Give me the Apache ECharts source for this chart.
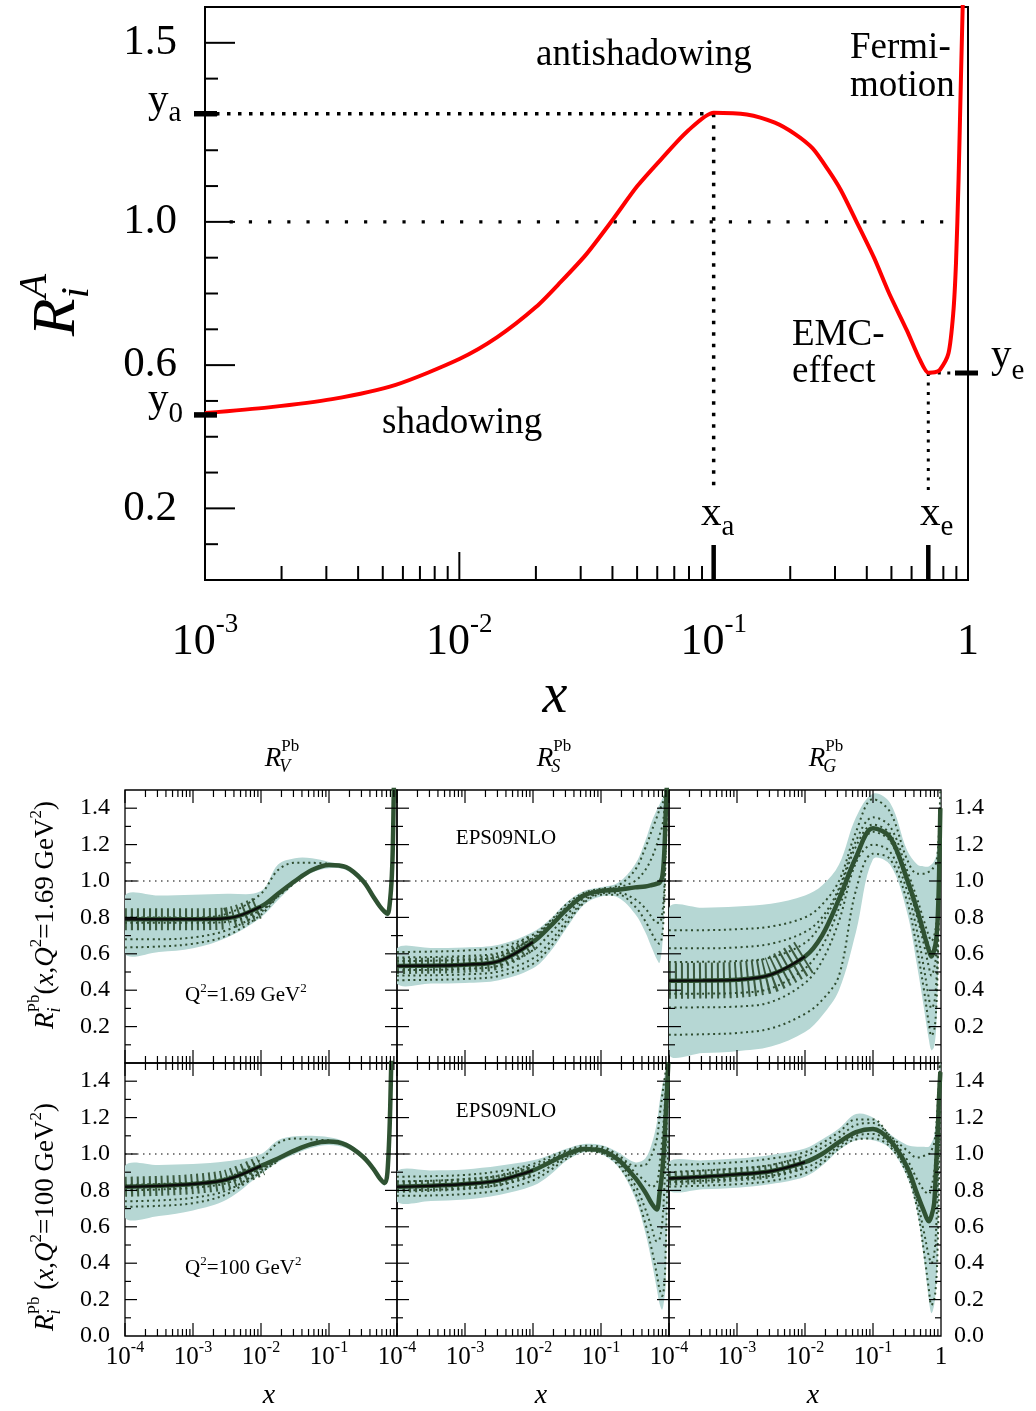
<!DOCTYPE html>
<html>
<head>
<meta charset="utf-8">
<title>Nuclear modification ratios</title>
<script src="https://cdn.jsdelivr.net/npm/echarts@6.0.0/dist/echarts.min.js"></script>
<style>html,body{margin:0;padding:0;background:#fff;}#chart{width:1036px;height:1411px;}</style>
</head>
<body>
<div id="chart"></div>
<script>
// ================= TOP PANEL DATA =================
const topCurveX = [0.001, 0.00178, 0.00316, 0.00562, 0.01, 0.0141, 0.02, 0.0251, 0.0316, 0.0398, 0.0501, 0.0631, 0.0794, 0.1, 0.135, 0.174, 0.209, 0.245, 0.282, 0.316, 0.363, 0.427, 0.490, 0.575, 0.646, 0.698, 0.741, 0.776, 0.838, 0.875, 0.897, 0.918, 0.938, 0.959];
const topCurveY = [0.466, 0.482, 0.505, 0.545, 0.617, 0.678, 0.762, 0.833, 0.91, 1.003, 1.10, 1.18, 1.255, 1.305, 1.30, 1.277, 1.245, 1.205, 1.145, 1.089, 1.003, 0.90, 0.80, 0.697, 0.616, 0.579, 0.58, 0.587, 0.633, 0.745, 0.885, 1.117, 1.4, 1.68];
const topYLabels = ['0.2', '0.6', '1.0', '1.5'];
const xA = 0.1, xE = 0.698;          // antishadowing peak, EMC minimum
const yZero = 0.461, yA = 1.302, yE = 0.578;
const guideFloor = 0.25;             // where the vertical dotted guides stop
const unityFrom = 0.00125, unityTo = 0.89, yeTo = 0.865;

// ================= BOTTOM PANELS DATA =================
const xGrid = [1e-4, 3.16e-4, 1e-3, 3.16e-3, 0.01, 0.0178, 0.0316, 0.0562, 0.1, 0.178, 0.316, 0.447, 0.562, 0.661, 0.724, 0.794, 0.851, 0.891, 0.933, 0.977];
const unityLine = [1e-4, 1];

// R_V, Q^2 = 1.69 GeV^2
const rv169Central = [0.79, 0.79, 0.79, 0.795, 0.86, 0.93, 1.0, 1.06, 1.088, 1.076, 1.0, 0.915, 0.86, 0.83, 0.82, 0.9, 1.08, 1.42, 2.0, 3.0];
const rv169Upper   = [0.92, 0.92, 0.925, 0.93, 0.945, 1.09, 1.125, 1.125, 1.105, 1.085, 1.02, 0.93, 0.875, 0.845, 0.835, 0.915, 1.1, 1.45, 2.05, 3.05];
const rv169Lower   = [0.6, 0.61, 0.63, 0.69, 0.8, 0.895, 0.985, 1.045, 1.07, 1.06, 0.985, 0.9, 0.845, 0.815, 0.805, 0.885, 1.06, 1.38, 1.95, 2.95];
const rv169Err1 = [0.68, 0.68, 0.69, 0.73, 0.83, 0.925];
const rv169Err2 = [0.635, 0.64, 0.655, 0.70, 0.815, 0.92];
const rv169Err3 = [0.80, 0.80, 0.80, 0.82, 0.93, 1.06, 1.1, 1.1, 1.095];
const rv169Err4 = [0.77, 0.77, 0.77, 0.775, 0.84, 0.915, 0.99];

// R_S, Q^2 = 1.69 GeV^2
const rs169Central = [0.533, 0.535, 0.54, 0.56, 0.665, 0.75, 0.845, 0.92, 0.945, 0.952, 0.965, 0.97, 0.978, 0.985, 0.99, 1.02, 1.15, 1.35, 1.55, 2.0];
const rs169Upper   = [0.63, 0.632, 0.635, 0.65, 0.72, 0.79, 0.885, 0.945, 0.965, 0.99, 1.09, 1.22, 1.33, 1.39, 1.42, 1.45, 1.48, 1.52, 1.6, 2.0];
const rs169Lower   = [0.435, 0.437, 0.44, 0.455, 0.52, 0.61, 0.745, 0.87, 0.915, 0.91, 0.82, 0.72, 0.63, 0.57, 0.55, 0.64, 0.85, 1.1, 1.37, 1.9];
const rs169Err1 = [0.61, 0.612, 0.618, 0.635, 0.705, 0.78, 0.875, 0.935, 0.958, 0.975, 1.06, 1.18, 1.28, 1.35, 1.39, 1.42, 1.46, 1.5, 1.6, 2.0];
const rs169Err2 = [0.58, 0.582, 0.588, 0.605, 0.685, 0.77, 0.86, 0.93, 0.952, 0.965, 1.0, 1.06, 1.13, 1.2, 1.25, 1.3, 1.38, 1.48, 1.6, 2.0];
const rs169Err3 = [0.455, 0.457, 0.462, 0.478, 0.545, 0.635, 0.765, 0.88, 0.925, 0.925, 0.86, 0.78, 0.71, 0.665, 0.655, 0.7, 0.88, 1.12, 1.4, 1.95];
const rs169Err4 = [0.48, 0.482, 0.487, 0.503, 0.575, 0.665, 0.785, 0.89, 0.932, 0.935, 0.9, 0.85, 0.8, 0.77, 0.77, 0.82, 0.95, 1.18, 1.45, 2.0];
const rs169Err5 = [0.51, 0.512, 0.517, 0.535, 0.62, 0.71, 0.815, 0.905, 0.94];
const rs169Err6 = [0.56, 0.562, 0.567, 0.585, 0.69, 0.775];

// R_G, Q^2 = 1.69 GeV^2
const rg169Central = [0.452, 0.453, 0.457, 0.485, 0.585, 0.7, 0.9, 1.13, 1.29, 1.24, 1.01, 0.84, 0.71, 0.62, 0.585, 0.62, 0.68, 0.78, 1.0, 1.4];
const rg169Upper   = [0.85, 0.853, 0.86, 0.875, 0.92, 0.975, 1.09, 1.35, 1.48, 1.43, 1.17, 1.09, 1.08, 1.08, 1.09, 1.11, 1.14, 1.2, 1.3, 1.5];
const rg169Lower   = [0.05, 0.055, 0.065, 0.09, 0.17, 0.26, 0.4, 0.72, 1.12, 1.09, 0.83, 0.53, 0.3, 0.13, 0.07, 0.09, 0.2, 0.4, 0.7, 1.2];
const rg169Err1 = [0.73, 0.73, 0.735, 0.75, 0.8, 0.87, 1.0, 1.27, 1.45, 1.38, 1.12, 1.04, 1.04, 1.05, 1.06, 1.08, 1.1, 1.15, 1.27, 1.5];
const rg169Err2 = [0.63, 0.63, 0.635, 0.655, 0.72, 0.8, 0.96, 1.22, 1.35, 1.3, 1.06, 0.9, 0.78, 0.7, 0.67, 0.7, 0.76, 0.86, 1.05, 1.42];
const rg169Err3 = [0.555, 0.556, 0.56, 0.58, 0.66, 0.77, 0.945, 1.19, 1.31, 1.26, 1.03, 0.86, 0.73, 0.645, 0.61, 0.645, 0.7, 0.8, 1.02, 1.4];
const rg169Err4 = [0.38, 0.381, 0.385, 0.41, 0.52, 0.64, 0.85, 1.13, 1.27, 1.22, 0.99, 0.8, 0.65, 0.53, 0.48, 0.52, 0.6, 0.72, 0.95, 1.38];
const rg169Err5 = [0.305, 0.306, 0.31, 0.335, 0.44, 0.56, 0.78, 1.1, 1.2, 1.16, 0.95, 0.72, 0.52, 0.36, 0.3, 0.33, 0.44, 0.6, 0.88, 1.35];
const rg169Err6 = [0.155, 0.158, 0.165, 0.19, 0.27, 0.345, 0.48, 0.95, 1.15, 1.12, 0.89, 0.62, 0.4, 0.22, 0.15, 0.18, 0.3, 0.5, 0.85, 1.3];

// R_V, Q^2 = 100 GeV^2
const rv100Central = [0.82, 0.825, 0.835, 0.86, 0.935, 0.975, 1.02, 1.055, 1.068, 1.05, 0.985, 0.92, 0.865, 0.84, 0.9, 1.25, 1.8, 2.3, 2.8, 3.2];
const rv100Upper   = [0.935, 0.94, 0.945, 0.96, 1.0, 1.075, 1.097, 1.1, 1.092, 1.065, 0.997, 0.932, 0.877, 0.853, 0.915, 1.27, 1.82, 2.3, 2.8, 3.2];
const rv100Lower   = [0.65, 0.66, 0.69, 0.75, 0.89, 0.955, 1.0, 1.035, 1.05, 1.033, 0.972, 0.907, 0.852, 0.827, 0.885, 1.23, 1.78, 2.3, 2.8, 3.2];
const rv100Err1 = [0.74, 0.745, 0.76, 0.8, 0.91, 0.965];
const rv100Err2 = [0.71, 0.715, 0.73, 0.78, 0.9, 0.96];
const rv100Err3 = [0.83, 0.835, 0.845, 0.87, 0.97, 1.06, 1.085, 1.08, 1.075];
const rv100Err4 = [0.80, 0.805, 0.815, 0.84, 0.92, 0.97, 1.015];

// R_S, Q^2 = 100 GeV^2
const rs100Central = [0.82, 0.825, 0.835, 0.855, 0.91, 0.955, 1.0, 1.028, 1.02, 0.97, 0.87, 0.79, 0.725, 0.695, 0.78, 0.9, 1.05, 1.2, 1.35, 1.5];
const rs100Upper   = [0.905, 0.91, 0.915, 0.935, 0.965, 0.995, 1.03, 1.055, 1.05, 1.01, 0.955, 0.975, 1.06, 1.17, 1.28, 1.37, 1.42, 1.46, 1.5, 1.6];
const rs100Lower   = [0.738, 0.742, 0.75, 0.775, 0.825, 0.885, 0.965, 1.01, 1.0, 0.93, 0.76, 0.57, 0.4, 0.26, 0.18, 0.145, 0.2, 0.27, 0.6, 0.95];
const rs100Err1 = [0.875, 0.878, 0.885, 0.905, 0.945, 0.985, 1.02, 1.045, 1.04, 0.995, 0.935, 0.94, 1.0, 1.08, 1.2, 1.32, 1.4, 1.45, 1.5, 1.6];
const rs100Err2 = [0.77, 0.772, 0.78, 0.80, 0.855, 0.91, 0.975, 1.015, 1.005, 0.94, 0.79, 0.62, 0.47, 0.34, 0.26, 0.22, 0.28, 0.45, 0.75, 1.1];
const rs100Err3 = [0.80, 0.803, 0.81, 0.83, 0.88, 0.93, 0.985, 1.02, 1.01, 0.955, 0.83, 0.7, 0.59, 0.52, 0.53, 0.62, 0.8, 1.0, 1.2, 1.45];
const rs100Err4 = [0.85, 0.853, 0.862, 0.88, 0.93, 0.97, 1.01, 1.035, 1.03, 0.985, 0.9, 0.85, 0.82, 0.84, 0.93, 1.08, 1.22, 1.33, 1.42, 1.55];

// R_G, Q^2 = 100 GeV^2
const rg100Central = [0.865, 0.875, 0.888, 0.905, 0.955, 1.0, 1.065, 1.12, 1.138, 1.075, 0.93, 0.78, 0.685, 0.63, 0.66, 0.73, 0.95, 1.1, 1.3, 1.45];
const rg100Upper   = [0.958, 0.965, 0.975, 0.995, 1.03, 1.08, 1.14, 1.22, 1.2, 1.11, 1.05, 1.04, 1.04, 1.04, 1.06, 1.1, 1.2, 1.3, 1.42, 1.55];
const rg100Lower   = [0.8, 0.807, 0.815, 0.835, 0.875, 0.935, 1.02, 1.075, 1.075, 1.03, 0.875, 0.68, 0.42, 0.2, 0.125, 0.17, 0.28, 0.45, 0.8, 1.2];
const rg100Err1 = [0.94, 0.945, 0.955, 0.975, 1.01, 1.06, 1.12, 1.19, 1.19, 1.1, 1.02, 0.98, 0.99, 1.0, 1.02, 1.06, 1.15, 1.26, 1.4, 1.55];
const rg100Err2 = [0.82, 0.826, 0.834, 0.852, 0.895, 0.95, 1.03, 1.08, 1.085, 1.04, 0.89, 0.7, 0.46, 0.26, 0.17, 0.2, 0.3, 0.48, 0.82, 1.25];
const rg100Err3 = [0.845, 0.853, 0.863, 0.88, 0.925, 0.97, 1.045, 1.1, 1.11, 1.055, 0.91, 0.74, 0.57, 0.44, 0.4, 0.45, 0.6, 0.82, 1.1, 1.4];
const rg100Err4 = [0.9, 0.91, 0.92, 0.94, 0.99, 1.035, 1.09, 1.16, 1.17, 1.095, 0.97, 0.86, 0.8, 0.78, 0.82, 0.9, 1.05, 1.2, 1.35, 1.5];

// ================= STYLE =================
const FONT = '"Liberation Serif","Times New Roman",serif';
const BAND = '#b6d7d4';
const DARK = '#2e4c2f';
const CENTRAL = '#2f5232';

const panels = [
  {c: rv169Central, hi: rv169Upper, lo: rv169Lower, err: [rv169Err1, rv169Err2, rv169Err3, rv169Err4], hatch: 22, k: 5},
  {c: rs169Central, hi: rs169Upper, lo: rs169Lower, err: [rs169Err1, rs169Err2, rs169Err3, rs169Err4, rs169Err5, rs169Err6], hatch: 16, k: 5},
  {c: rg169Central, hi: rg169Upper, lo: rg169Lower, err: [rg169Err1, rg169Err2, rg169Err3, rg169Err4, rg169Err5, rg169Err6], hatch: 36, k: 5},
  {c: rv100Central, hi: rv100Upper, lo: rv100Lower, err: [rv100Err1, rv100Err2, rv100Err3, rv100Err4], hatch: 20, k: 5},
  {c: rs100Central, hi: rs100Upper, lo: rs100Lower, err: [rs100Err1, rs100Err2, rs100Err3, rs100Err4], hatch: 12, k: 5},
  {c: rg100Central, hi: rg100Upper, lo: rg100Lower, err: [rg100Err1, rg100Err2, rg100Err3, rg100Err4], hatch: 14, k: 5}
];

// ================= TEXT HELPER =================
const mctx = document.createElement('canvas').getContext('2d');
function fontStr(p) { return (p.i ? 'italic ' : '') + p.s + 'px ' + FONT; }
function textGroup(parts, x, y, opt) {
  opt = opt || {};
  let cur = 0, lastX = 0, lastW = 0;
  const kids = [];
  parts.forEach(p => {
    mctx.font = fontStr(p);
    const w = mctx.measureText(p.t).width;
    let px;
    if (p.stack) { px = lastX; lastW = Math.max(lastW, w); cur = lastX + lastW; }
    else { px = cur; lastX = cur; lastW = w; cur += w; }
    kids.push({type: 'text', x: px + (p.dx || 0), y: (p.dy || 0) - 0.32 * p.s,
      style: {text: p.t, font: fontStr(p), fill: '#000', align: 'left', verticalAlign: 'middle'}});
  });
  const off = opt.align === 'center' ? -cur / 2 : 0;
  kids.forEach(k => { k.x += off; });
  return {type: 'group', x: x, y: y, rotation: opt.rot || 0, children: kids, silent: true, z: 100};
}

// ================= BUILD OPTION =================
const grids = [{left: 205, top: 7, width: 763, height: 573, show: true, borderColor: '#000', borderWidth: 2, backgroundColor: 'rgba(0,0,0,0)', outerBoundsMode: 'none', containLabel: false}];
for (let r = 0; r < 2; r++) for (let c = 0; c < 3; c++) {
  grids.push({left: 125 + 272 * c, top: 790 + 273 * r, width: 272, height: 273, show: true, borderColor: '#000', borderWidth: 1.3, backgroundColor: 'rgba(0,0,0,0)', outerBoundsMode: 'none', containLabel: false});
}

const hide = {axisLine: {show: false}, axisTick: {show: false}, splitLine: {show: false}, minorTick: {show: false}, minorSplitLine: {show: false}};
const xAxes = [Object.assign({gridIndex: 0, type: 'log', logBase: 10, min: 0.001, max: 1,
  axisLabel: {margin: 40, color: '#000', fontFamily: FONT, fontSize: 44,
    formatter: v => { const e = Math.round(Math.log10(v)); return e === 0 ? '{b|1}' : '{b|10}{s|' + e + '}'; },
    rich: {b: {fontSize: 44, fontFamily: FONT, color: '#000', lineHeight: 44},
           s: {fontSize: 27, fontFamily: FONT, color: '#000', verticalAlign: 'top', height: 10}}}}, hide)];
const yAxes = [Object.assign({gridIndex: 0, type: 'value', min: 0, max: 1.6, interval: 0.1,
  axisLabel: {margin: 28, color: '#000', fontFamily: FONT, fontSize: 43,
    formatter: v => topYLabels.includes(v.toFixed(1)) ? v.toFixed(1) : ''}}, hide)];

for (let r = 0; r < 2; r++) for (let c = 0; c < 3; c++) {
  const gi = 1 + r * 3 + c;
  xAxes.push(Object.assign({gridIndex: gi, type: 'log', logBase: 10, min: 1e-4, max: 1,
    axisLabel: {show: r === 1, margin: 9, showMaxLabel: c === 2, showMinLabel: true, color: '#000', fontFamily: FONT, fontSize: 25,
      formatter: v => { const e = Math.round(Math.log10(v)); return e === 0 ? '{b|1}' : '{b|10}{s|' + e + '}'; },
      rich: {b: {fontSize: 25, fontFamily: FONT, color: '#000', lineHeight: 25},
             s: {fontSize: 16, fontFamily: FONT, color: '#000', verticalAlign: 'top', height: 6}}}}, hide));
  yAxes.push(Object.assign({gridIndex: gi, type: 'value', min: 0, max: 1.5, interval: 0.2, position: c === 2 ? 'right' : 'left',
    axisLabel: {show: c !== 1, margin: c === 2 ? 13 : 15, color: '#000', fontFamily: FONT, fontSize: 24,
      formatter: v => (v > 1.45 || (r === 0 && v < 0.05)) ? '' : v.toFixed(1)}}, hide));
}

const series = [];
const pts = (xs, ys) => ys.map((v, i) => [xs[i], v]);
function line(gi, data, ls, z, smooth) {
  return {type: 'line', xAxisIndex: gi, yAxisIndex: gi, data: data, symbol: 'none', showSymbol: false,
    lineStyle: ls, z: z, smooth: smooth || 0, silent: true, animation: false, emphasis: {disabled: true}};
}
function bandSeries(gi, hi, lo) {
  return {type: 'custom', xAxisIndex: gi, yAxisIndex: gi, clip: true, silent: true, z: 2, animation: false,
    data: [[xGrid[0], lo[0]]],
    renderItem(params, api) {
      const p = [];
      for (let i = 0; i < xGrid.length; i++) p.push(api.coord([xGrid[i], hi[i]]));
      for (let i = xGrid.length - 1; i >= 0; i--) p.push(api.coord([xGrid[i], lo[i]]));
      return {type: 'polygon', shape: {points: p, smooth: 0.35}, style: {fill: BAND, stroke: null}};
    }};
}
function tickSeries(gi, xT, yT, opt) {
  return {type: 'custom', xAxisIndex: gi, yAxisIndex: gi, clip: false, silent: true, z: 20, animation: false,
    data: [[0.01, 0.5]],
    renderItem(params, api) {
      const cs = params.coordSys, ch = [];
      const L = (x1, y1, x2, y2, w) => ch.push({type: 'line', shape: {x1, y1, x2, y2}, style: {stroke: '#000', lineWidth: w || opt.w}});
      const bot = cs.y + cs.height, right = cs.x + cs.width;
      xT.forEach(([v, len]) => {
        const px = api.coord([v, 0.5])[0];
        if (opt.bottom) L(px, bot, px, bot - len);
        if (opt.top) L(px, cs.y, px, cs.y + len);
      });
      yT.forEach(([v, len]) => {
        const py = api.coord([0.01, v])[1];
        if (opt.left) L(cs.x, py, cs.x + len, py);
        if (opt.right) L(right, py, right - len, py);
      });
      (opt.marks || []).forEach(m => {
        if (m.axis === 'y') {
          const py = api.coord([0.01, m.v])[1];
          if (m.side === 'left') L(cs.x - 11, py, cs.x + 12, py, m.w); else L(right - 13, py, right + 10, py, m.w);
        } else {
          const px = api.coord([m.v, 0.5])[0];
          L(px, bot - 35, px, bot, m.w);
        }
      });
      return {type: 'group', children: ch};
    }};
}

// ---- top panel series ----
const dotG = (w, d) => ({color: '#000', width: w, type: d, cap: 'butt'});
series.push(line(0, [[topCurveX[0], yA], [xA, yA]], dotG(3.5, [3.5, 7.5]), 3));
series.push(line(0, [[xA, yA], [xA, guideFloor]], dotG(3.5, [3.5, 8]), 3));
series.push(line(0, [[unityFrom, 1], [unityTo, 1]], dotG(3.2, [3.2, 16]), 3));
series.push(line(0, [[xE, yE], [xE, guideFloor]], dotG(3, [3, 6.5]), 3));
series.push(line(0, [[xE, yE], [yeTo, yE]], dotG(3, [3, 6.5]), 3));
series.push(line(0, pts(topCurveX, topCurveY), {color: '#ff0000', width: 4}, 5, 0.25));
const topXT = [], topYT = [];
for (let d = -3; d <= -1; d++) for (let m = 1; m <= 9; m++) topXT.push([m * Math.pow(10, d), m === 1 ? 28 : 14]);
for (let k = 1; k <= 15; k++) topYT.push([k / 10, topYLabels.includes((k / 10).toFixed(1)) ? 30 : 13]);
const topMarks = [{axis: 'y', v: yA, side: 'left', w: 5.5}, {axis: 'y', v: yZero, side: 'left', w: 5.5}, {axis: 'y', v: yE, side: 'right', w: 5},
                  {axis: 'x', v: xA, w: 4.5}, {axis: 'x', v: xE, w: 4.5}];
series.push(tickSeries(0, topXT, topYT, {bottom: true, left: true, w: 2, marks: topMarks}));

// ---- bottom panels ----
const botXT = [], botYT = [];
for (let d = -4; d <= -1; d++) for (let m = 1; m <= 9; m++) botXT.push([m * Math.pow(10, d), m === 1 ? 13 : 7]);
for (let k = 1; k <= 14; k++) botYT.push([k / 10, k % 2 === 0 ? 12 : 6]);
panels.forEach((p, idx) => {
  const gi = idx + 1;
  series.push(line(gi, unityLine.map(x => [x, 1]), {color: '#000', width: 1.2, type: [1.5, 4.5], cap: 'butt'}, 1));
  series.push(bandSeries(gi, p.hi, p.lo));
  series.push(line(gi, pts(xGrid, p.c.slice(0, p.k)), {color: DARK, width: p.hatch, type: [2, 4], cap: 'butt', opacity: 0.9}, 3, 0.3));
  p.err.forEach(e => series.push(line(gi, pts(xGrid, e), {color: DARK, width: 2, type: [2, 3.5], cap: 'butt'}, 4, 0.35)));
  series.push(line(gi, pts(xGrid, p.c), {color: CENTRAL, width: 4.5}, 5, 0.35));
  series.push(line(gi, pts(xGrid, p.c.slice(0, p.k)), {color: '#0c0c0c', width: 2.4}, 6, 0.35));
  series.push(tickSeries(gi, botXT, botYT, {bottom: true, top: true, left: true, right: true, w: 1.2}));
});

// ---- texts ----
const graphic = [];
graphic.push(textGroup([{t: 'antishadowing', s: 37}], 536, 67));
graphic.push(textGroup([{t: 'Fermi-', s: 37}], 850, 60));
graphic.push(textGroup([{t: 'motion', s: 37}], 850, 98));
graphic.push(textGroup([{t: 'shadowing', s: 37}], 382, 435));
graphic.push(textGroup([{t: 'EMC-', s: 37}], 792, 347));
graphic.push(textGroup([{t: 'effect', s: 37}], 792, 384));
graphic.push(textGroup([{t: 'y', s: 41}, {t: 'a', s: 29, dy: 9}], 148, 114));
graphic.push(textGroup([{t: 'y', s: 41}, {t: '0', s: 29, dy: 11}], 148, 413));
graphic.push(textGroup([{t: 'y', s: 41}, {t: 'e', s: 29, dy: 12}], 991, 369));
graphic.push(textGroup([{t: 'x', s: 41}, {t: 'a', s: 29, dy: 10}], 701, 527));
graphic.push(textGroup([{t: 'x', s: 41}, {t: 'e', s: 29, dy: 10}], 920, 527));
graphic.push(textGroup([{t: 'R', s: 62, i: true}, {t: 'A', s: 40, i: true, dy: -30}, {t: 'i', s: 40, i: true, dy: 12, stack: true}], 78, 305, {align: 'center', rot: Math.PI / 2}));
graphic.push(textGroup([{t: 'x', s: 56, i: true}], 555, 715, {align: 'center'}));

const colTitles = ['V', 'S', 'G'];
colTitles.forEach((t, c) => {
  const cx = 125 + 272 * c + 136;
  graphic.push(textGroup([{t: 'R', s: 27, i: true}, {t: 'Pb', s: 17, dy: -16}, {t: t, s: 18, i: true, dy: 5, stack: true, dx: -2}], cx + 21, 768, {align: 'center'}));
  graphic.push(textGroup([{t: 'x', s: 28, i: true}], cx + 8, 1405, {align: 'center'}));
});
graphic.push(textGroup([{t: 'R', s: 27, i: true}, {t: 'Pb', s: 17, dy: -15}, {t: 'i', s: 18, i: true, dy: 6, stack: true},
  {t: '(', s: 27}, {t: 'x', s: 27, i: true}, {t: ',', s: 27}, {t: 'Q', s: 27, i: true}, {t: '2', s: 17, dy: -13},
  {t: '=1.69 GeV', s: 27}, {t: '2', s: 17, dy: -13}, {t: ')', s: 27}], 55, 915, {align: 'center', rot: Math.PI / 2}));
graphic.push(textGroup([{t: 'R', s: 27, i: true}, {t: 'Pb', s: 17, dy: -15}, {t: 'i', s: 18, i: true, dy: 6, stack: true},
  {t: ' (', s: 27}, {t: 'x', s: 27, i: true}, {t: ',', s: 27}, {t: 'Q', s: 27, i: true}, {t: '2', s: 17, dy: -13},
  {t: '=100 GeV', s: 27}, {t: '2', s: 17, dy: -13}, {t: ')', s: 27}], 55, 1217, {align: 'center', rot: Math.PI / 2}));
graphic.push(textGroup([{t: 'Q', s: 21}, {t: '2', s: 13, dy: -9}, {t: '=1.69 GeV', s: 21}, {t: '2', s: 13, dy: -9}], 185, 1002));
graphic.push(textGroup([{t: 'Q', s: 21}, {t: '2', s: 13, dy: -9}, {t: '=100 GeV', s: 21}, {t: '2', s: 13, dy: -9}], 185, 1275));
graphic.push(textGroup([{t: 'EPS09NLO', s: 21}], 506, 845, {align: 'center'}));
graphic.push(textGroup([{t: 'EPS09NLO', s: 21}], 506, 1118, {align: 'center'}));

const chart = echarts.init(document.getElementById('chart'), null, {renderer: 'canvas', width: 1036, height: 1411});
chart.setOption({
  animation: false,
  backgroundColor: '#fff',
  grid: grids,
  xAxis: xAxes,
  yAxis: yAxes,
  series: series,
  graphic: graphic
});
</script>
</body>
</html>
